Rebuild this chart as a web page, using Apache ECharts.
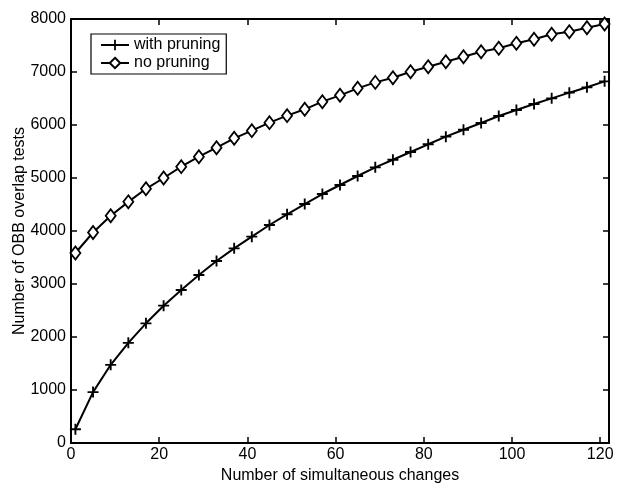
<!DOCTYPE html>
<html><head><meta charset="utf-8">
<script src="https://cdn.jsdelivr.net/npm/echarts@6/dist/echarts.min.js"></script>
<style>html,body{margin:0;padding:0;background:#fff}#c{width:617px;height:491px}</style>
</head><body><div id="c"></div>
<script>
const xValues = [1,5,9,13,17,21,25,29,33,37,41,45,49,53,57,61,65,69,73,77,81,85,89,93,97,101,105,109,113,117,121];
const withPruning = [260,960,1475,1890,2258,2591,2887,3170,3434,3673,3893,4113,4315,4509,4698,4868,5038,5201,5345,5491,5636,5780,5911,6038,6170,6283,6396,6503,6610,6711,6824];
const noPruning = [3585,3972,4289,4550,4796,5000,5214,5402,5572,5749,5893,6044,6176,6296,6440,6560,6692,6804,6892,7006,7100,7194,7289,7383,7447,7541,7617,7711,7760,7836,7906];
const xTicks = [0,20,40,60,80,100,120];
const yTicks = [0,1000,2000,3000,4000,5000,6000,7000,8000];

const font = 'Liberation Sans, Arial, Helvetica, sans-serif';
const plusPath = 'path://M-1,-0.17 L-0.17,-0.17 L-0.17,-1 L0.17,-1 L0.17,-0.17 L1,-0.17 L1,0.17 L0.17,0.17 L0.17,1 L-0.17,1 L-0.17,0.17 L-1,0.17 Z';

const chart = echarts.init(document.getElementById('c'), null, {renderer:'canvas'});
const axLine = {show:true, onZero:false, lineStyle:{color:'#000', width:2}};
const tickStyle = {color:'#000', width:1.5};
chart.setOption({
  animation:false,
  backgroundColor:'#fff',
  grid:{left:71, right:8, top:19, bottom:48, containLabel:false, outerBoundsMode:'none'},
  legend:{
    orient:'vertical', left:91, top:34, padding:[3,6,3,9], itemGap:2,
    borderColor:'#000', borderWidth:1.2, backgroundColor:'#fff',
    itemWidth:28, itemHeight:13,
    textStyle:{fontFamily:font, fontSize:16, color:'#000'},
    data:['with pruning','no pruning']
  },
  xAxis:[{
    type:'value', min:0, max:122, interval:20, position:'bottom',
    name:'Number of simultaneous changes', nameLocation:'middle', nameGap:25, nameMoveOverlap:false,
    nameTextStyle:{fontFamily:font, fontSize:16, color:'#000'},
    axisLine:axLine,
    axisTick:{show:true, inside:true, length:6, customValues:xTicks, lineStyle:tickStyle},
    axisLabel:{customValues:xTicks, fontFamily:font, fontSize:16, color:'#000', margin:4, formatter:v=>String(v)},
    splitLine:{show:false}
  },{
    type:'value', min:0, max:122, interval:20, position:'top',
    axisLine:axLine,
    axisTick:{show:true, inside:true, length:6, customValues:xTicks, lineStyle:tickStyle},
    axisLabel:{show:false}, splitLine:{show:false}
  }],
  yAxis:[{
    type:'value', min:0, max:8000, interval:1000, position:'left',
    name:'Number of OBB overlap tests', nameLocation:'middle', nameGap:43, nameMoveOverlap:false,
    nameTextStyle:{fontFamily:font, fontSize:16, color:'#000'},
    axisLine:axLine,
    axisTick:{show:true, inside:true, length:6, lineStyle:tickStyle},
    axisLabel:{fontFamily:font, fontSize:16, color:'#000', margin:5, formatter:v=>String(v)},
    splitLine:{show:false}
  },{
    type:'value', min:0, max:8000, interval:1000, position:'right',
    axisLine:axLine,
    axisTick:{show:true, inside:true, length:6, lineStyle:tickStyle},
    axisLabel:{show:false}, splitLine:{show:false}
  }],
  series:[{
    name:'with pruning', type:'line',
    data:xValues.map((x,i)=>[x, withPruning[i]]),
    symbol:plusPath, symbolSize:11, showAllSymbol:true,
    lineStyle:{color:'#000', width:2},
    itemStyle:{color:'#000', borderWidth:0},
    z:3
  },{
    name:'no pruning', type:'line',
    data:xValues.map((x,i)=>[x, noPruning[i]]),
    symbol:'diamond', symbolSize:[10,13], showAllSymbol:true,
    lineStyle:{color:'#000', width:2},
    itemStyle:{color:'#fff', borderColor:'#000', borderWidth:1.8},
    z:3
  }]
});
</script></body></html>
